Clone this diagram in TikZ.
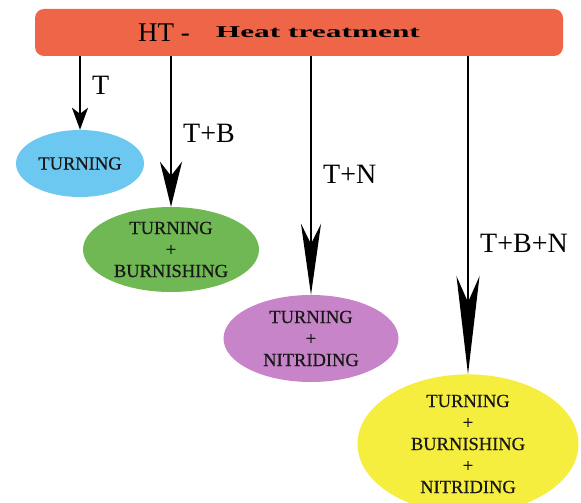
\documentclass[tikz,border=0pt]{standalone}
\usepackage{fontspec}
\setmainfont{Liberation Serif}
\usetikzlibrary{shapes.geometric,arrows.meta}
\definecolor{barcol}{RGB}{238,101,72}
\definecolor{bluecol}{RGB}{108,200,240}
\definecolor{greencol}{RGB}{112,184,84}
\definecolor{purplecol}{RGB}{200,132,200}
\definecolor{yellowcol}{RGB}{246,238,62}
\definecolor{txtcol}{RGB}{24,24,24}
\tikzset{
  procbox/.style={ellipse, draw=none, inner sep=0pt, align=center, text=txtcol,
    font=\fontsize{18.5}{21.5}\selectfont\addfontfeature{FakeBold=0.6}},
  flowarrow/.style={draw=black, line width=2.8pt},
  arrlabel/.style={anchor=base west, inner sep=0pt, font=\fontsize{28}{28}\selectfont}
}
\begin{document}
\begin{tikzpicture}[x=1pt,y=-1pt]
\useasboundingbox (0,0) rectangle (581,503);
\clip (0,0) rectangle (581,503);
% header bar
\node[fill=barcol, rounded corners=9pt, minimum width=528pt, minimum height=47pt, inner sep=0pt] (ht) at (299,32.5) {};
\node[anchor=base west, inner sep=0pt] (httext) at (138,42)
  {\fontsize{27}{27}\selectfont HT -\hspace{26pt}\raisebox{4pt}{\scalebox{1.9}[1]{\fontsize{16.5}{16.5}\selectfont\bfseries Heat treatment}}};
% result ellipses
\node[procbox, fill=bluecol, minimum width=128pt, minimum height=67pt] (e1) at (80,163.5) {TURNING};
\node[procbox, fill=greencol, minimum width=176pt, minimum height=85pt] (e2) at (171,249.5) {TURNING\\+\\BURNISHING};
\node[procbox, fill=purplecol, minimum width=175pt, minimum height=87pt] (e3) at (311,338.5) {TURNING\\+\\NITRIDING};
\node[procbox, fill=yellowcol, minimum width=221pt, minimum height=132pt] (e4) at (468,444) {TURNING\\+\\BURNISHING\\+\\NITRIDING};
% arrows
\draw[flowarrow, -{Stealth[length=22pt, width=16pt, inset=6pt]}] (ht.south -| e1.north) -- (e1.north);
\draw[flowarrow, -{Stealth[length=45pt, width=22pt, inset=14pt]}] (ht.south -| e2.north) -- (e2.north);
\draw[flowarrow, -{Stealth[length=71pt, width=20pt, inset=20pt]}] (ht.south -| e3.north) -- (e3.north);
\draw[flowarrow, -{Stealth[length=98pt, width=23pt, inset=26pt]}] (ht.south -| e4.north) -- (e4.north);
% labels
\node[arrlabel] (l1) at (92,95) {T};
\node[arrlabel] (l2) at (183,142) {T+B};
\node[arrlabel] (l3) at (323,183) {T+N};
\node[arrlabel] (l4) at (480,252) {T+B+N};
\end{tikzpicture}
\end{document}
